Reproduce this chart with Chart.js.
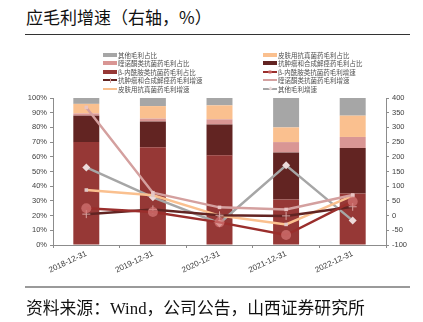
<!DOCTYPE html>
<html>
<head>
<meta charset="utf-8">
<script src="https://cdn.jsdelivr.net/npm/chart.js@4"></script>
<style>
  body { margin: 0; background: #fff; }
  #wrap { position: relative; width: 423px; height: 322px; overflow: hidden; font-family: "Noto Sans CJK SC", sans-serif; }
  #c { position: absolute; left: 0; top: 0; }
  .title { position: absolute; left: 26px; top: 4px; font-size: 17px; color: #111; white-space: nowrap; }
  .rule { position: absolute; left: 25px; width: 385px; }
  .rule.top { top: 34px; border-top: 1px solid #333; }
  .rule.bottom { top: 286px; border-top: 2px solid #9a9a9a; }
  .source { position: absolute; left: 26px; top: 295px; font-size: 16.8px; color: #111; white-space: nowrap; }
  .source .lat { font-family: "Liberation Serif", serif; }
  .lg { position: absolute; font-size: 6.5px; color: #505050; white-space: nowrap; line-height: 8px; height: 8px; }
  .sw { position: absolute; left: 0; top: 0; width: 14px; height: 8px; }
  .sw i { position: absolute; left: 0; width: 14px; }
  .sw b { position: absolute; }
  .lg span { position: absolute; left: 15px; top: 0; }
</style>
</head>
<body>
<div id="wrap">
  <div class="title">应毛利增速（右轴，%）</div>
  <div class="rule top"></div>
  <canvas id="c" width="423" height="322"></canvas>
  <div id="legend"></div>
  <div class="rule bottom"></div>
  <div class="source">资料来源：<span class="lat">Wind</span>，公司公告，山西证券研究所</div>
</div>
<script>
// --- Dữ liệu ---
const categories = ["2018-12-31", "2019-12-31", "2020-12-31", "2021-12-31", "2022-12-31"];

// bar share (%), stacked bottom to top
const betaShare = [70, 66.5, 61, 31, 35];
const antitumorShare = [18, 17.5, 21, 32, 31];
const quinoloneShare = [1.5, 2, 3.5, 7, 7.5];
const skinShare = [6.5, 8.5, 9.5, 10, 14.5];
const otherShare = [4, 5.5, 5, 20, 12];

// growth (%), right axis
const betaGrowth = [25, 12, -23, -66, 48];
const antitumorGrowth = [5, 21, 1, -1, 30];
const quinoloneGrowth = [368, 78, 28, 21, 70];
const skinGrowth = [87, 69, 0, -30, 68];
const otherGrowth = [164, 62, -26, 171, -17];

const leftTicks = [0, 10, 20, 30, 40, 50, 60, 70, 80, 90, 100];
const rightTicks = [-100, -50, 0, 50, 100, 150, 200, 250, 300, 350, 400];

const C = {
    red: "#963836", dark: "#622422", pink: "#d99694", orange: "#fac08f", gray: "#a6a6a6"
};

function bar(label, data, color) {
    return { type: "bar", label, data, backgroundColor: color, yAxisID: "y", stack: "s", order: 2,
             categoryPercentage: 1, barPercentage: 0.39, borderWidth: 0 };
}
function line(label, data, color, pt) {
    return Object.assign({ type: "line", label, data, borderColor: color, borderWidth: 2.5, yAxisID: "y1",
             order: 1, tension: 0, fill: false, pointBorderWidth: 0 }, pt);
}

const datasets = [
    bar("β-内酰胺类抗菌药毛利占比", betaShare, C.red),
    bar("抗肿瘤和合成解痉药毛利占比", antitumorShare, C.dark),
    bar("喹诺酮类抗菌药毛利占比", quinoloneShare, C.pink),
    bar("皮肤用抗真菌药毛利占比", skinShare, C.orange),
    bar("其他毛利占比", otherShare, C.gray),
    line("β-内酰胺类抗菌药毛利增速", betaGrowth, "#9a2e2c",
         { pointStyle: "circle", pointRadius: 5, pointBackgroundColor: "rgba(214,120,118,0.7)" }),
    line("抗肿瘤和合成解痉药毛利增速", antitumorGrowth, C.dark,
         { pointStyle: "cross", pointRadius: 4, pointBorderWidth: 1, pointBorderColor: "#d9a3a1" }),
    line("喹诺酮类抗菌药毛利增速", quinoloneGrowth, "#d4a09f",
         { pointStyle: "rect", pointRadius: 2.5, pointBackgroundColor: "#e8c4c3" }),
    line("皮肤用抗真菌药毛利增速", skinGrowth, C.orange,
         { pointStyle: "rect", pointRadius: 2.5, pointBackgroundColor: "#e0c8c8" }),
    line("其他毛利增速", otherGrowth, C.gray,
         { pointStyle: "rectRot", pointRadius: 4, pointBackgroundColor: "#ecdada" })
];

const axisColor = "#8c8c8c";
const tickFont = { family: "Arial, 'Liberation Sans', sans-serif", size: 7.5 };

new Chart(document.getElementById("c"), {
    data: { labels: categories, datasets },
    options: {
        responsive: false,
        animation: false,
        layout: { padding: { top: 98, left: 0, right: 0, bottom: 45 } },
        plugins: { legend: { display: false }, tooltip: { enabled: false } },
        scales: {
            x: {
                stacked: true,
                offset: true,
                grid: { display: true, drawOnChartArea: false, offset: true, tickLength: 3, color: axisColor },
                border: { color: axisColor },
                ticks: { font: { family: tickFont.family, size: 8 }, color: "#404040", minRotation: 25, maxRotation: 25, padding: 1 },
                afterFit: s => { s.height = 32; }
            },
            y: {
                stacked: true, position: "left", min: 0, max: 100,
                afterBuildTicks: s => { s.ticks = leftTicks.map(v => ({ value: v })); },
                grid: { drawOnChartArea: false, tickLength: 3, color: axisColor },
                border: { color: axisColor },
                ticks: { font: tickFont, color: "#404040", padding: 3, callback: v => v + "%" },
                afterFit: s => { s.width = 53; }
            },
            y1: {
                stacked: false, position: "right", min: -100, max: 400,
                afterBuildTicks: s => { s.ticks = rightTicks.map(v => ({ value: v })); },
                grid: { drawOnChartArea: false, tickLength: 3, color: axisColor },
                border: { color: axisColor },
                ticks: { font: tickFont, color: "#404040", padding: 3 },
                afterFit: s => { s.width = 37; }
            }
        }
    }
});

// --- Legend (two columns, Excel style) ---
const legendOrder = [4, 3, 2, 1, 0, 5, 6, 7, 8, 9];
const colX = [103, 263];
const rowY = [50.5, 59, 67.5, 76, 84.5];
const lg = document.getElementById("legend");
legendOrder.forEach((di, k) => {
    const ds = datasets[di];
    const col = k % 2, row = Math.floor(k / 2);
    const el = document.createElement("div");
    el.className = "lg";
    el.style.left = colX[col] + "px";
    el.style.top = rowY[row] + "px";
    let sw = "";
    if (ds.type === "bar") {
        sw = `<i style="top:2px;height:4px;background:${ds.backgroundColor}"></i>`;
    } else {
        sw = `<i style="top:3px;height:2px;background:${ds.borderColor}"></i>`;
        if (ds.pointStyle === "circle") sw += `<b style="left:5px;top:2px;width:4px;height:4px;border-radius:2px;background:${ds.pointBackgroundColor}"></b>`;
        if (ds.pointStyle === "rectRot") sw += `<b style="left:5.5px;top:2.5px;width:3px;height:3px;transform:rotate(45deg);background:${ds.pointBackgroundColor}"></b>`;
        if (ds.pointStyle === "cross") sw += `<b style="left:6.5px;top:1.5px;width:1px;height:5px;background:${ds.pointBorderColor}"></b>`;
    }
    el.innerHTML = `<div class="sw">${sw}</div><span>${ds.label}</span>`;
    lg.appendChild(el);
});
</script>
</body>
</html>
